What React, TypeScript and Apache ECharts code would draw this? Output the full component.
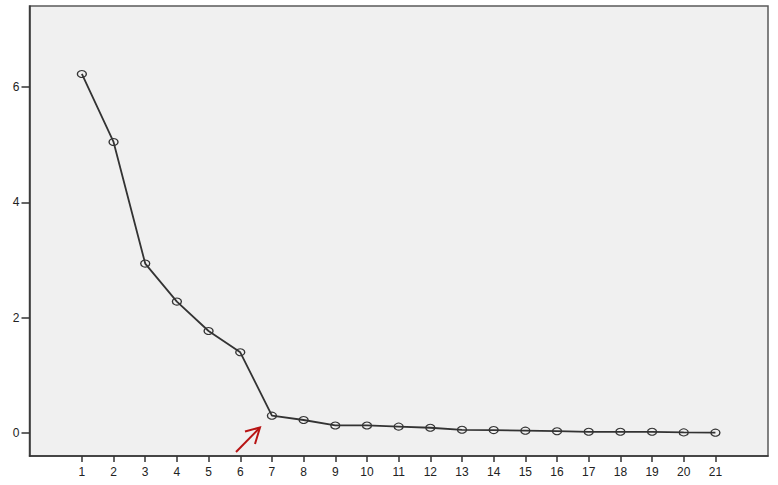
import React, { useEffect, useRef } from "react";
import * as echarts from "echarts";

const components = [1, 2, 3, 4, 5, 6, 7, 8, 9, 10, 11, 12, 13, 14, 15, 16, 17, 18, 19, 20, 21];
const eigenvalues = [6.23, 5.05, 2.94, 2.28, 1.77, 1.4, 0.3, 0.225, 0.13, 0.13, 0.11, 0.09, 0.055, 0.05, 0.04, 0.03, 0.02, 0.02, 0.02, 0.01, 0.005];
const yTicks = [0, 2, 4, 6];

export default function App() {
  const ref = useRef<HTMLDivElement>(null);
  useEffect(() => {
    const chart = echarts.init(ref.current!, null, { renderer: "svg" });
    const font = "'Liberation Sans', Arial, sans-serif";
    chart.setOption({
      animation: false,
      backgroundColor: "#ffffff",
      grid: {
        left: 29.5,
        top: 6,
        right: 10,
        bottom: 29,
        show: true,
        backgroundColor: "#f0f0f0",
        borderColor: "#5a5a5a",
        borderWidth: 1.5,
      },
      xAxis: {
        type: "value",
        min: -0.653,
        max: 22.66,
        splitLine: { show: false },
        axisLine: { show: true, onZero: false, lineStyle: { color: "#333", width: 1.5 } },
        axisTick: { show: true, customValues: components, length: 6, lineStyle: { color: "#333", width: 1.5 } },
        axisLabel: {
          customValues: components,
          margin: 10,
          fontFamily: font,
          fontSize: 12,
          color: "#222",
        },
      },
      yAxis: {
        type: "value",
        min: -0.4,
        max: 7.41,
        splitLine: { show: false },
        axisLine: { show: true, onZero: false, lineStyle: { color: "#333", width: 1.5 } },
        axisTick: { show: true, customValues: yTicks, length: 8, lineStyle: { color: "#333", width: 1.5 } },
        axisLabel: {
          customValues: yTicks,
          margin: 10,
          fontFamily: font,
          fontSize: 12,
          color: "#222",
        },
      },
      series: [
        {
          type: "line",
          data: components.map((c, i) => [c, eigenvalues[i]]),
          symbol: "circle",
          symbolSize: [9, 7],
          lineStyle: { color: "#333", width: 1.8 },
          itemStyle: { color: "rgba(0,0,0,0)", borderColor: "#333", borderWidth: 1.2 },
        },
      ],
      graphic: [
        {
          type: "line",
          shape: { x1: 236, y1: 452, x2: 259.5, y2: 428 },
          style: { stroke: "#b81414", lineWidth: 2 },
        },
        {
          type: "polyline",
          shape: { points: [[245, 431.5], [260, 427.5], [255, 444]] },
          style: { stroke: "#b81414", lineWidth: 2, fill: "none" },
        },
      ],
    });
    return () => chart.dispose();
  }, []);
  return (
    <div
      ref={ref}
      style={{ width: 778, height: 485, position: "absolute", left: 0, top: 0 }}
    />
  );
}
